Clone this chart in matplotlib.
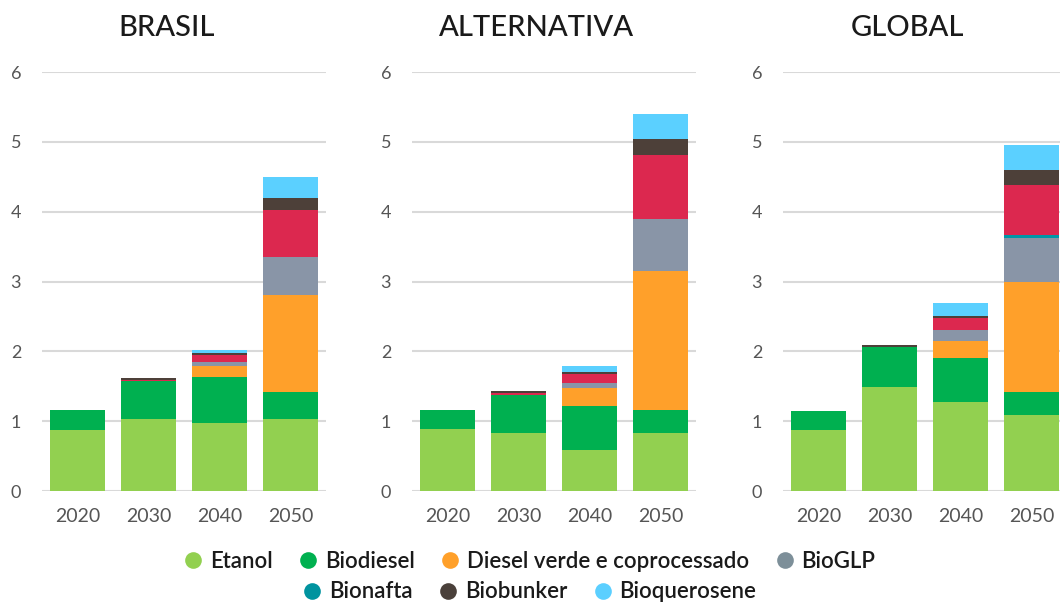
import matplotlib
matplotlib.use('Agg')
import matplotlib.pyplot as plt
from matplotlib.lines import Line2D

plt.rcParams['font.family'] = ['Lato', 'DejaVu Sans']

years = ['2020', '2030', '2040', '2050']
panels = ['BRASIL', 'ALTERNATIVA', 'GLOBAL']
series = ['Etanol', 'Biodiesel', 'Diesel verde e coprocessado', 'BioGLP',
          'Bionafta', 'Outros', 'Biobunker', 'Bioquerosene']

# values per panel, one list per series (same order as series)
brasil = [
    [0.88, 1.03, 0.97, 1.03],
    [0.28, 0.54, 0.66, 0.39],
    [0.00, 0.00, 0.16, 1.39],
    [0.00, 0.00, 0.06, 0.54],
    [0.00, 0.00, 0.00, 0.00],
    [0.00, 0.02, 0.10, 0.67],
    [0.00, 0.03, 0.03, 0.18],
    [0.00, 0.00, 0.04, 0.30],
]
alternativa = [
    [0.89, 0.83, 0.59, 0.83],
    [0.27, 0.54, 0.63, 0.33],
    [0.00, 0.00, 0.25, 1.99],
    [0.00, 0.00, 0.08, 0.75],
    [0.00, 0.00, 0.00, 0.00],
    [0.00, 0.04, 0.13, 0.91],
    [0.00, 0.02, 0.03, 0.23],
    [0.00, 0.00, 0.08, 0.36],
]
glob = [
    [0.88, 1.49, 1.27, 1.09],
    [0.27, 0.57, 0.63, 0.33],
    [0.00, 0.00, 0.25, 1.57],
    [0.00, 0.00, 0.15, 0.64],
    [0.00, 0.00, 0.00, 0.03],
    [0.00, 0.00, 0.18, 0.72],
    [0.00, 0.03, 0.02, 0.21],
    [0.00, 0.00, 0.19, 0.36],
]
data = [brasil, alternativa, glob]

colors = ['#92d050', '#00b050', '#ffa02a', '#8995a7',
          '#0097a7', '#dc284f', '#4d4039', '#5bd0ff']
legend_colors = ['#92d050', '#00b050', '#ffa02a', '#7d8f99',
                 '#00939f', None, '#4a403a', '#5bcfff']

fig = plt.figure(figsize=(10.6, 6.03), dpi=100)

# axes positions in pixels (left, width)
lefts = [42, 412, 783]
W, H = 1060, 603
for i in range(3):
    ax = fig.add_axes([lefts[i] / W, (603 - 491) / H, 284 / W, (491 - 72) / H])
    bottom = [0, 0, 0, 0]
    x = range(len(years))
    for s in range(len(series)):
        vals = data[i][s]
        ax.bar(x, vals, bottom=bottom, width=0.77, color=colors[s],
               edgecolor='none', zorder=3)
        bottom = [b + v for b, v in zip(bottom, vals)]
    ax.set_xlim(-0.5, 3.5)
    ax.set_ylim(0, 6)
    ax.set_yticks(range(7))
    ax.set_xticks(list(x))
    ax.set_xticklabels(years)
    ax.yaxis.grid(True, color='#d9d9d9', linewidth=1.5, zorder=0)
    for sp in ax.spines.values():
        sp.set_visible(False)
    ax.tick_params(axis='y', length=0, pad=15, labelsize=13, labelcolor='#555555')
    ax.tick_params(axis='x', length=0, pad=12, labelsize=14, labelcolor='#555555')
    tx = (lefts[i] + 142 - 17) / W
    fig.text(tx, 1 - 28 / H, panels[i], fontsize=21, color='#1a1a1a',
             ha='center', va='center', fontweight='medium')

def handles(idx):
    return [Line2D([], [], marker='o', linestyle='none', markersize=12,
                   markerfacecolor=legend_colors[k], markeredgecolor='none')
            for k in idx]

row1 = [0, 1, 2, 3]
row2 = [4, 6, 7]
leg_kw = dict(loc='center', frameon=False, handlelength=0.8, handletextpad=0.35,
              columnspacing=1.2, prop={'size': 16, 'weight': 'semibold'},
              labelcolor='#1a1a1a')
fig.legend(handles(row1), [series[k] for k in row1],
           bbox_to_anchor=(0.5, 1 - 561 / H), ncol=4, **leg_kw)
fig.legend(handles(row2), [series[k] for k in row2],
           bbox_to_anchor=(0.5, 1 - 592 / H), ncol=3, **leg_kw)

fig.savefig('out.png', dpi=100)
